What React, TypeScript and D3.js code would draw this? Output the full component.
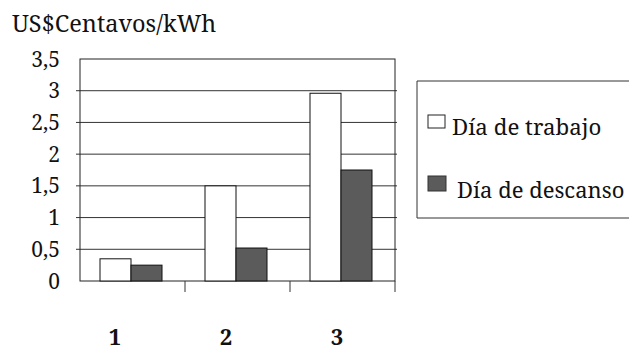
import React from "react";
import * as d3 from "d3";

const categories = ["1", "2", "3"];
const seriesNames = ["Día de trabajo", "Día de descanso"];
const trabajo = [0.35, 1.5, 2.96];
const descanso = [0.25, 0.52, 1.75];
const yTicks = [0, 0.5, 1, 1.5, 2, 2.5, 3, 3.5];
const yTickLabels = ["0", "0,5", "1", "1,5", "2", "2,5", "3", "3,5"];
const yTitle = "US$Centavos/kWh";

const W = 629;
const H = 351;
const plot = { left: 80, right: 395, top: 59, bottom: 281 };
const DARK = "#5b5b5b";
const FONT = "'Noto Serif', 'Nimbus Roman', 'Nimbus Roman No9 L', FreeSerif, Times, 'Liberation Serif', serif";

export default function App() {
  const y = d3.scaleLinear().domain([0, 3.5]).range([plot.bottom, plot.top]);
  const x = d3.scaleBand<string>().domain(categories).range([plot.left, plot.right]).paddingInner(0).paddingOuter(0);
  const barW = 31;
  const offset = 20;
  const labelX = d3.scaleLinear().domain([0, 2]).range([115, 337]);
  const series = [trabajo, descanso];

  return (
    <svg width={W} height={H} style={{ position: "absolute", left: 0, top: 0, background: "#fff", fontFamily: FONT }}>
      <text x={12} y={32} fontSize={23.5} fill="#111">{yTitle}</text>
      {yTicks.map((t, i) => (
        t > 0 && t < 3.5 ? (
          <line key={"g" + i} x1={plot.left - 4} x2={plot.right + 2} y1={y(t)} y2={y(t)} stroke="#333" strokeWidth={1} />
        ) : null
      ))}
      <rect x={plot.left} y={plot.top} width={plot.right - plot.left} height={plot.bottom - plot.top} fill="none" stroke="#222" strokeWidth={1} />
      {categories.map((c, i) => (
        <line key={"t" + i} x1={(x(c) as number) + x.bandwidth()} x2={(x(c) as number) + x.bandwidth()} y1={plot.bottom} y2={plot.bottom + 11} stroke="#333" strokeWidth={1} />
      ))}
      {yTicks.map((t, i) => (
        <text key={"y" + i} x={60} y={y(t)} dy="0.36em" textAnchor="end" fontSize={21} fill="#111">{yTickLabels[i]}</text>
      ))}
      {categories.map((c, ci) =>
        series.map((s, si) => (
          <rect key={c + si}
            x={(x(c) as number) + offset + si * barW}
            y={y(s[ci])}
            width={barW}
            height={y(0) - y(s[ci])}
            fill={si === 0 ? "#fff" : DARK}
            stroke="#111" strokeWidth={1} />
        ))
      )}
      {categories.map((c, i) => (
        <text key={"x" + i} x={labelX(i)} y={345} textAnchor="middle" fontWeight="bold" fontSize={22} fill="#111">{c}</text>
      ))}
      <path d={`M${W + 5},81 H417 V218 H${W + 5}`} fill="#fff" stroke="#333" strokeWidth={1} />
      <rect x={428} y={115} width={17} height={13} fill="#fff" stroke="#222" strokeWidth={1} />
      <text x={452} y={135} fontSize={22.3} fill="#111">{seriesNames[0]}</text>
      <rect x={428} y={176} width={18} height={15} fill={DARK} stroke="#333" strokeWidth={1} />
      <text x={457} y={198} fontSize={22} fill="#111">{seriesNames[1]}</text>
    </svg>
  );
}
